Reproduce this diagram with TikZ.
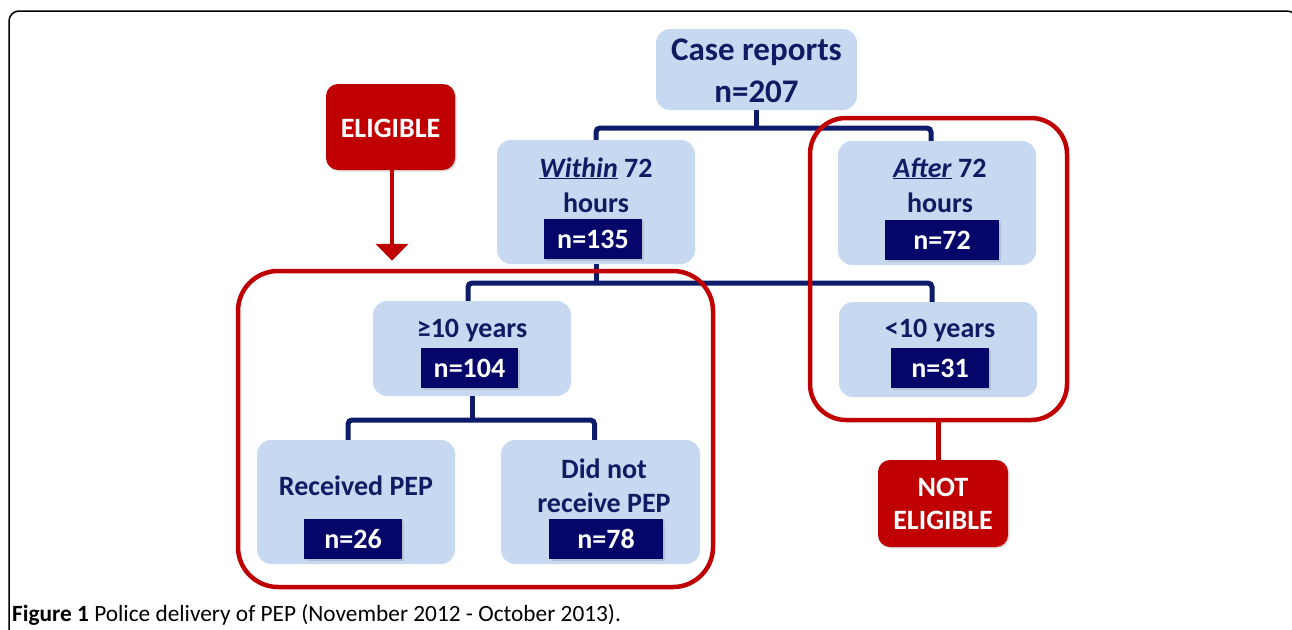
\documentclass[tikz,border=0pt]{standalone}
\usepackage{fontspec}
\setmainfont{Carlito}
\usetikzlibrary{arrows.meta,shadows}
\definecolor{lightbox}{HTML}{C6D9F0}
\definecolor{navytext}{HTML}{0F1B62}
\definecolor{navybox}{HTML}{05056A}
\definecolor{navyline}{HTML}{0D1B6B}
\definecolor{redbox}{HTML}{C00000}
\tikzset{
  lb/.style={fill=lightbox, draw=none, rounded corners=14pt, inner sep=0pt},
  nbox/.style={fill=navybox, draw=none, inner sep=0pt, text=white,
    font=\bfseries\fontsize{28}{30}\selectfont,
    drop shadow={opacity=0.25, shadow xshift=1.5pt, shadow yshift=-1.5pt}},
  lbl/.style={anchor=base, inner sep=0pt, text=navytext, font=\bfseries\fontsize{28}{30}\selectfont},
  bigl/.style={anchor=base, inner sep=0pt, text=navytext, font=\bfseries\fontsize{33}{36}\selectfont},
  redlbl/.style={fill=redbox, draw=none, rounded corners=12pt, inner sep=0pt,
    drop shadow={opacity=0.25, shadow xshift=1.5pt, shadow yshift=-1.5pt}},
  redtxt/.style={anchor=base, inner sep=0pt, text=white, font=\bfseries\fontsize{28}{30}\selectfont},
  grp/.style={draw=redbox, line width=4.5pt, fill=none, inner sep=0pt},
  conn/.style={draw=navyline, line width=5pt, rounded corners=4pt},
  redline/.style={draw=redbox, line width=4.5pt},
}
\begin{document}
\begin{tikzpicture}[x=1pt,y=-1pt]
\useasboundingbox (0,0) rectangle (1292,629);
% frame
\draw[black, line width=1.5pt, rounded corners=10pt] (9,640) -- (9,11) -- (1297,11) -- (1297,640);

% light boxes
\node[lb, minimum width=201pt, minimum height=81pt] (case) at (756.5,69.5) {};
\node[lb, minimum width=198pt, minimum height=124pt] (within) at (596,202) {};
\node[lb, minimum width=198pt, minimum height=124pt] (after) at (937,203) {};
\node[lb, minimum width=198pt, minimum height=95pt] (ge10) at (472,348.5) {};
\node[lb, minimum width=198pt, minimum height=95pt] (lt10) at (938,349.5) {};
\node[lb, minimum width=198pt, minimum height=124pt] (recv) at (356,502) {};
\node[lb, minimum width=199pt, minimum height=124pt] (didnot) at (600.5,502) {};

% texts
\node[bigl] (caseT1) at (756.5,60) {Case reports};
\node[bigl] (caseT2) at (756.5,102) {n=207};
\node[lbl] (withinT1) at (596,177) {\underline{\textit{Within}} 72};
\node[lbl] (withinT2) at (596,212) {hours};
\node[lbl] (afterT1) at (940,177) {\underline{\textit{After}} 72};
\node[lbl] (afterT2) at (940,212) {hours};
\node[lbl] (ge10T) at (472,337) {≥10 years};
\node[lbl] (lt10T) at (940,337) {<10 years};
\node[lbl] (recvT) at (356,495) {Received PEP};
\node[lbl] (didnotT1) at (604,478) {Did not};
\node[lbl] (didnotT2) at (604,512) {receive PEP};

% n boxes
\node[nbox, minimum width=98pt, minimum height=40pt] (nwithin) at (593,239) {n=135};
\node[nbox, minimum width=114pt, minimum height=40pt] (nafter) at (942,240) {n=72};
\node[nbox, minimum width=97pt, minimum height=40pt] (nge10) at (469.5,368) {n=104};
\node[nbox, minimum width=98pt, minimum height=40pt] (nlt10) at (940,368) {n=31};
\node[nbox, minimum width=98pt, minimum height=40pt] (nrecv) at (353,539) {n=26};
\node[nbox, minimum width=114pt, minimum height=40pt] (ndidnot) at (606,539) {n=78};

% connectors
\coordinate (j1) at (756.5,128);
\coordinate (j2) at (596,283);
\coordinate (j3) at (470,420);
\draw[conn] (case.south) -- (j1);
\draw[conn] (within.north) -- (within.north |- j1) -- ([xshift=-6pt]after.north |- j1) -- ([xshift=-6pt]after.north);
\draw[conn] (within.south) -- (j2);
\draw[conn] ([xshift=-4pt]ge10.north) -- ([xshift=-4pt]ge10.north |- j2) -- ([xshift=-6pt]lt10.north |- j2) -- ([xshift=-6pt]lt10.north);
\draw[conn] (ge10.south) -- (ge10.south |- j3);
\draw[conn] ([xshift=-8pt]recv.north) -- ([xshift=-8pt]recv.north |- j3) -- ([xshift=-6pt]didnot.north |- j3) -- ([xshift=-6pt]didnot.north);

% red groups
\node[grp, rounded corners=40pt, minimum width=475pt, minimum height=316pt] (grpL) at (475.5,429) {};
\node[grp, rounded corners=36pt, minimum width=257pt, minimum height=302pt] (grpR) at (938.5,269) {};

% red labels
\node[redlbl, minimum width=129pt, minimum height=86pt] (eligible) at (390.5,127) {};
\node[redtxt] (eligibleT) at (390.5,137) {ELIGIBLE};
\node[redlbl, minimum width=130pt, minimum height=87pt] (noteligible) at (943,503.5) {};
\node[redtxt] (noteligibleT1) at (943,496) {NOT};
\node[redtxt] (noteligibleT2) at (943,529) {ELIGIBLE};

\draw[redline, -{Triangle[width=32pt,length=17pt]}] ([xshift=1.5pt]eligible.south) -- ([xshift=1.5pt,yshift=8pt]eligible.south |- grpL.north);
\draw[redline] (grpR.south) -- (grpR.south |- noteligible.north);

% caption
\node[anchor=base west, inner sep=0pt, font=\fontsize{23.3}{26}\selectfont] (caption) at (12,621)
  {\textbf{Figure 1} Police delivery of PEP (November 2012 - October 2013).};
\end{tikzpicture}
\end{document}
